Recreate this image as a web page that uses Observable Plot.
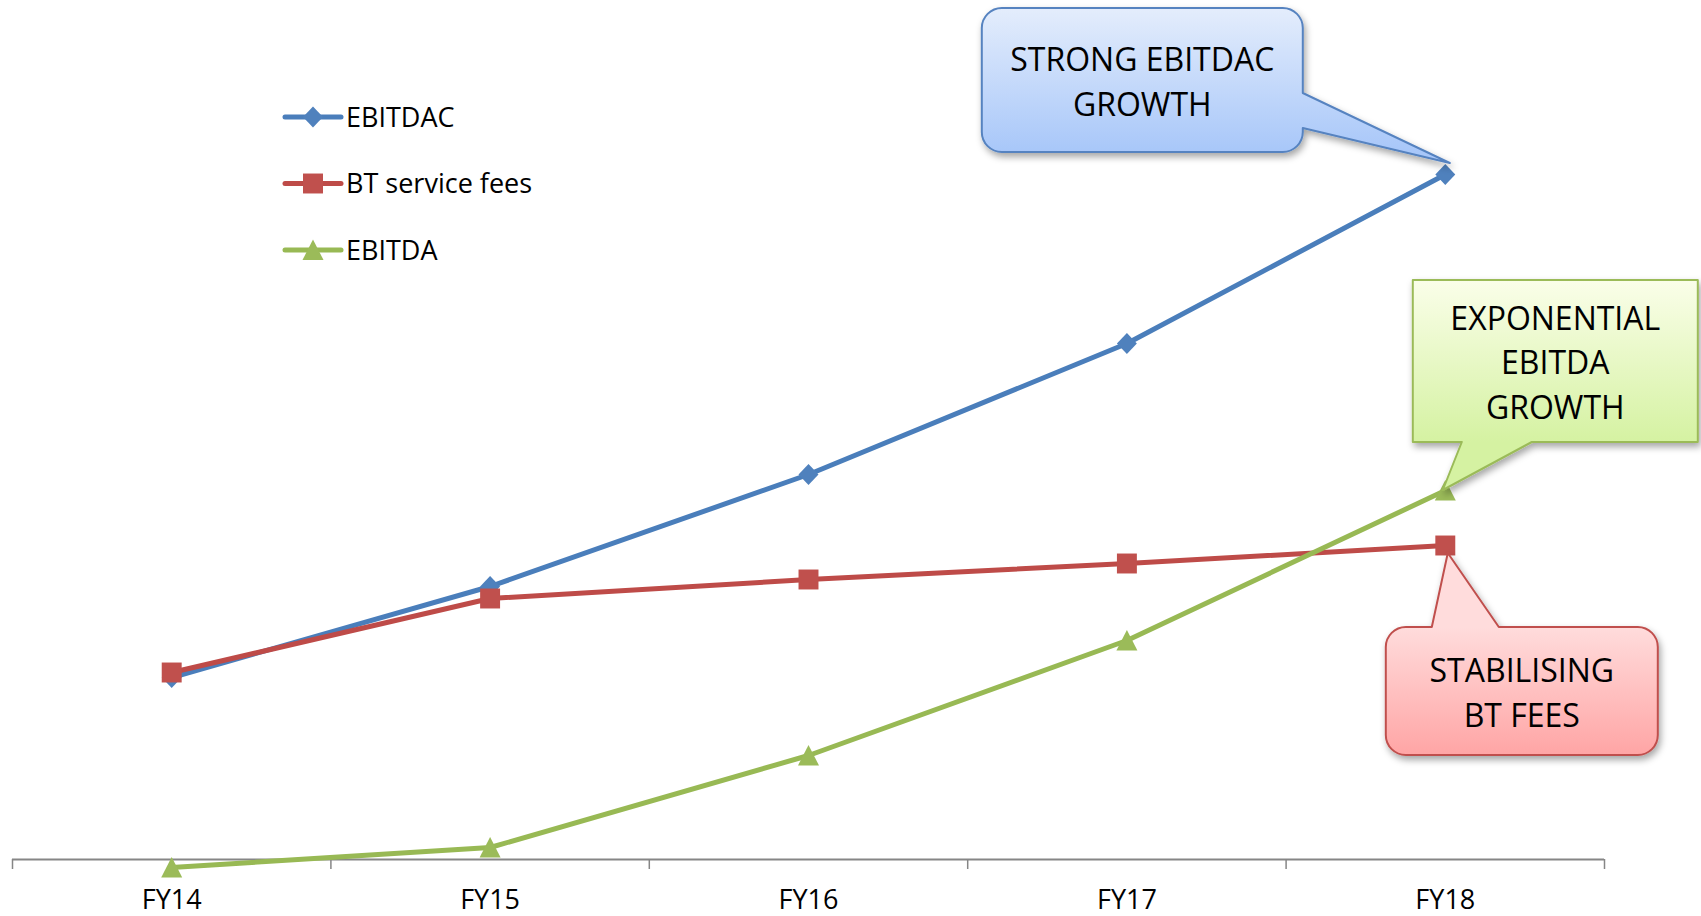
<!DOCTYPE html>
<html>
<head>
<meta charset="utf-8">
<script src="https://cdn.jsdelivr.net/npm/d3@7"></script>
<script src="https://cdn.jsdelivr.net/npm/@observablehq/plot@0.6"></script>
<style>
  html, body { margin: 0; padding: 0; background: #fff; overflow: hidden; }
  #chart svg { display: block; }
</style>
</head>
<body>
<div id="chart"></div>
<script>
// Fiscal years on the category axis
const years = ["FY14", "FY15", "FY16", "FY17", "FY18"];

// Series values per fiscal year
const ebitdac = [18.2, 27.3, 38.5, 51.6, 68.5];
const btFees  = [18.7, 26.1, 28.0, 29.6, 31.4];
const ebitda  = [-0.8, 1.2, 10.4, 21.9, 36.9];

const seriesNames = ["EBITDAC", "BT service fees", "EBITDA"];
const seriesValues = [ebitdac, btFees, ebitda];

// Styling for each series
const lineColors   = ["#4A7EBB", "#BE4B48", "#98B954"];
const markerColors = ["#4F81BD", "#C0504D", "#9BBB59"];

// Marker shapes (radius derived from the symbol area Plot passes in)
const rOf = size => Math.sqrt(size / Math.PI);
const diamond = { draw(ctx, size) { const r = rOf(size), w = r * 0.95;
  ctx.moveTo(0, -r); ctx.lineTo(w, 0); ctx.lineTo(0, r); ctx.lineTo(-w, 0); ctx.closePath(); } };
const square = { draw(ctx, size) { const r = rOf(size) * 0.95;
  ctx.moveTo(-r, -r); ctx.lineTo(r, -r); ctx.lineTo(r, r); ctx.lineTo(-r, r); ctx.closePath(); } };
const triangle = { draw(ctx, size) { const r = rOf(size);
  ctx.moveTo(0, -r); ctx.lineTo(r, r * 0.95); ctx.lineTo(-r, r * 0.95); ctx.closePath(); } };
const symbols = [diamond, square, triangle];
const markerR = 10.5;

// Long table for the marks
const rows = seriesNames.flatMap((name, s) =>
  years.map((year, i) => ({ i, year, series: name, s, value: seriesValues[s][i] })));

const idx = d3.range(years.length);
const bounds = d3.range(years.length + 1).map(i => i - 0.5);

const seriesMarks = seriesNames.flatMap((name, s) => {
  const data = rows.filter(d => d.s === s);
  return [
    Plot.line(data, { x: "i", y: "value", stroke: lineColors[s], strokeWidth: 5,
      strokeLinejoin: "round", strokeLinecap: "round" }),
    Plot.dot(data, { x: "i", y: "value", symbol: symbols[s], r: markerR, fill: markerColors[s], stroke: "none" })
  ];
});

const chart = Plot.plot({
  width: 1701,
  height: 916,
  marginLeft: 12,
  marginRight: 97,
  marginTop: 0,
  marginBottom: 57,
  style: { fontFamily: "'Open Sans', sans-serif", background: "#fff", color: "#000" },
  x: { type: "linear", domain: [-0.5, years.length - 0.5] },
  y: { domain: [0, 85.9], axis: null },
  marks: [
    Plot.ruleY([0], { stroke: "#868686", strokeWidth: 2 }),
    Plot.ruleX(bounds, { y1: 0, y2: -1, stroke: "#868686", strokeWidth: 1.5 }),
    Plot.axisX({ ticks: idx, tickFormat: i => years[i], tickSize: 0, tickPadding: 30,
      fontSize: 27, fill: "#000", label: null }),
    ...seriesMarks
  ]
});

document.getElementById("chart").appendChild(chart);

const svg = d3.select(chart);
const sx = chart.scale("x"), sy = chart.scale("y");
const X = v => sx.apply(v), Y = v => sy.apply(v);

// Legend in the upper-left of the plot area
const legend = svg.append("g").attr("font-family", "'Open Sans', sans-serif").attr("font-size", 27)
  .attr("text-anchor", "start");
seriesNames.forEach((name, s) => {
  const gy = 117 + s * 66.5, gx = 285;
  legend.append("line").attr("x1", gx).attr("x2", gx + 56).attr("y1", gy).attr("y2", gy)
    .attr("stroke", lineColors[s]).attr("stroke-width", 5).attr("stroke-linecap", "round");
  legend.append("path").attr("transform", `translate(${gx + 28},${gy})`)
    .attr("d", d3.symbol(symbols[s], markerR * markerR * Math.PI)()).attr("fill", markerColors[s]);
  legend.append("text").attr("x", gx + 61).attr("y", gy).attr("dy", "0.357em")
    .attr("fill", "#000").text(name);
});

// Callout bubbles pointing at the FY18 values
const callouts = [
  { s: 0, lines: ["STRONG EBITDAC", "GROWTH"], box: [-463, -166, -142, -22], radius: 20,
    side: "right", base: [-81, -46], tip: [5, -11], top: "#E4EDFC", bottom: "#A8C7F9", stroke: "#5683C0" },
  { s: 2, lines: ["EXPONENTIAL", "EBITDA", "GROWTH"], box: [-32, -210, 253, -48], radius: 0,
    side: "bottom", base: [17, 87], tip: [-2, 0], top: "#FAFEE9", bottom: "#D5F2A2", stroke: "#9BBB59" },
  { s: 1, lines: ["STABILISING", "BT FEES"], box: [-59, 82, 213, 210], radius: 20,
    side: "top", base: [-13, 54], tip: [3, 8], top: "#FFDCDC", bottom: "#FFA5A5", stroke: "#C0504D" }
];

const defs = svg.append("defs");
const shadow = defs.append("filter").attr("id", "callout-shadow")
  .attr("x", "-20%").attr("y", "-20%").attr("width", "140%").attr("height", "150%");
shadow.append("feDropShadow").attr("dx", 2).attr("dy", 4).attr("stdDeviation", 3.5)
  .attr("flood-color", "#000").attr("flood-opacity", 0.35);

function calloutPath(x0, y0, x1, y1, r, side, b0, b1, tx, ty) {
  let p = `M${x0 + r},${y0}`;
  if (side === "top") p += `L${b0},${y0}L${tx},${ty}L${b1},${y0}`;
  p += `L${x1 - r},${y0}`;
  if (r) p += `A${r},${r} 0 0 1 ${x1},${y0 + r}`;
  if (side === "right") p += `L${x1},${b0}L${tx},${ty}L${x1},${b1}`;
  p += `L${x1},${y1 - r}`;
  if (r) p += `A${r},${r} 0 0 1 ${x1 - r},${y1}`;
  if (side === "bottom") p += `L${b1},${y1}L${tx},${ty}L${b0},${y1}`;
  p += `L${x0 + r},${y1}`;
  if (r) p += `A${r},${r} 0 0 1 ${x0},${y1 - r}`;
  p += `L${x0},${y0 + r}`;
  if (r) p += `A${r},${r} 0 0 1 ${x0 + r},${y0}`;
  return p + "Z";
}

const last = years.length - 1;
callouts.forEach((c, k) => {
  const px = X(last), py = Y(seriesValues[c.s][last]);
  const [bx0, by0, bx1, by1] = [px + c.box[0], py + c.box[1], px + c.box[2], py + c.box[3]];
  const gid = `callout-grad-${k}`;
  const grad = defs.append("linearGradient").attr("id", gid)
    .attr("gradientUnits", "userSpaceOnUse").attr("x1", 0).attr("x2", 0).attr("y1", by0).attr("y2", by1);
  grad.append("stop").attr("offset", "0%").attr("stop-color", c.top);
  grad.append("stop").attr("offset", "100%").attr("stop-color", c.bottom);
  const horiz = c.side === "right";
  const b0 = horiz ? py + c.base[0] : px + c.base[0];
  const b1 = horiz ? py + c.base[1] : px + c.base[1];
  svg.append("path")
    .attr("d", calloutPath(bx0, by0, bx1, by1, c.radius, c.side, b0, b1, px + c.tip[0], py + c.tip[1]))
    .attr("fill", `url(#${gid})`).attr("stroke", c.stroke).attr("stroke-width", 2)
    .attr("stroke-linejoin", "round").attr("filter", "url(#callout-shadow)");
  const cx = (bx0 + bx1) / 2, cy = (by0 + by1) / 2, lh = 44.5;
  const t = svg.append("text").attr("font-family", "'Open Sans', sans-serif").attr("font-size", 32)
    .attr("text-anchor", "middle").attr("fill", "#000");
  c.lines.forEach((line, j) => {
    t.append("tspan").attr("x", cx).attr("y", cy + 2 + (j - (c.lines.length - 1) / 2) * lh)
      .attr("dy", "0.357em").text(line);
  });
});
</script>
</body>
</html>
